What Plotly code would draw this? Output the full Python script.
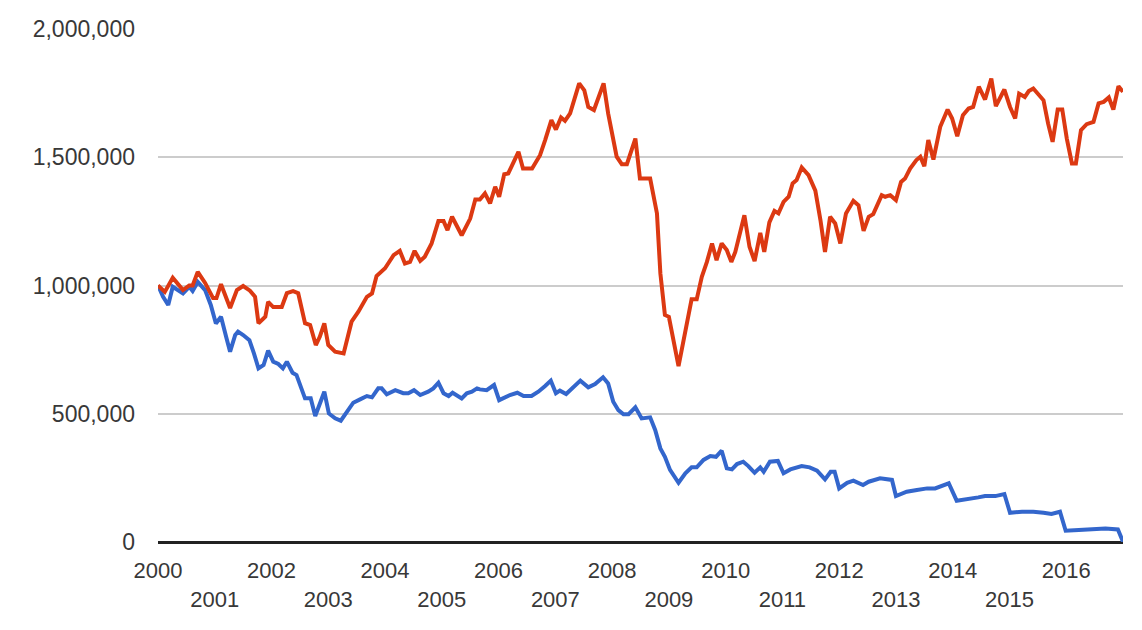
import plotly.graph_objects as go

# Red series (x in fractional years, values)
red_x = [2000.00, 2000.12, 2000.26, 2000.44, 2000.55, 2000.61, 2000.70, 2000.83, 2000.97, 2001.03,
         2001.11, 2001.27, 2001.39, 2001.50, 2001.62, 2001.71, 2001.77, 2001.89, 2001.94, 2002.03,
         2002.18, 2002.27, 2002.38, 2002.47, 2002.59, 2002.68, 2002.78, 2002.85, 2002.93, 2003.00,
         2003.12, 2003.27, 2003.41, 2003.53, 2003.68, 2003.77, 2003.85, 2004.00, 2004.15, 2004.26,
         2004.35, 2004.44, 2004.52, 2004.62, 2004.70, 2004.82, 2004.94, 2005.03, 2005.10, 2005.18,
         2005.35, 2005.50, 2005.59, 2005.67, 2005.76, 2005.85, 2005.94, 2006.01, 2006.10, 2006.17,
         2006.35, 2006.43, 2006.59, 2006.73, 2006.82, 2006.93, 2007.01, 2007.10, 2007.17, 2007.26,
         2007.42, 2007.51, 2007.58, 2007.68, 2007.85, 2007.93, 2008.08, 2008.17, 2008.26, 2008.41,
         2008.49, 2008.67, 2008.79, 2008.85, 2008.93, 2009.00, 2009.17, 2009.29, 2009.40, 2009.49,
         2009.58, 2009.67, 2009.76, 2009.84, 2009.93, 2010.02, 2010.10, 2010.17, 2010.33, 2010.42,
         2010.51, 2010.61, 2010.68, 2010.77, 2010.86, 2010.93, 2011.02, 2011.11, 2011.18, 2011.25,
         2011.34, 2011.46, 2011.58, 2011.67, 2011.75, 2011.84, 2011.93, 2012.02, 2012.12, 2012.25,
         2012.34, 2012.43, 2012.52, 2012.60, 2012.75, 2012.81, 2012.90, 2013.00, 2013.09, 2013.16,
         2013.25, 2013.36, 2013.43, 2013.50, 2013.57, 2013.66, 2013.78, 2013.91, 2013.99, 2014.08,
         2014.18, 2014.28, 2014.36, 2014.46, 2014.57, 2014.68, 2014.76, 2014.91, 2015.01, 2015.10,
         2015.17, 2015.27, 2015.34, 2015.42, 2015.51, 2015.60, 2015.68, 2015.76, 2015.85, 2015.93,
         2016.01, 2016.10, 2016.17, 2016.26, 2016.36, 2016.48, 2016.57, 2016.66, 2016.75, 2016.83,
         2016.92, 2017.00]
red_y = [1000000, 975000, 1030000, 982000, 1000000, 1000000, 1053000, 1010000, 951000, 951000,
         1005000, 912000, 982000, 998000, 980000, 956000, 853000, 878000, 936000, 916000,
         916000, 970000, 978000, 970000, 853000, 846000, 768000, 800000, 852000, 768000,
         742000, 735000, 859000, 898000, 956000, 969000, 1037000, 1067000, 1118000, 1135000,
         1086000, 1092000, 1135000, 1096000, 1112000, 1164000, 1251000, 1251000, 1216000, 1268000,
         1196000, 1261000, 1335000, 1335000, 1359000, 1320000, 1385000, 1346000, 1434000, 1437000,
         1521000, 1456000, 1456000, 1508000, 1567000, 1645000, 1608000, 1655000, 1642000, 1671000,
         1788000, 1761000, 1696000, 1684000, 1788000, 1671000, 1502000, 1473000, 1473000, 1573000,
         1417000, 1417000, 1281000, 1047000, 885000, 878000, 686000, 813000, 946000, 946000,
         1034000, 1092000, 1164000, 1099000, 1164000, 1138000, 1092000, 1131000, 1274000, 1151000,
         1095000, 1205000, 1131000, 1246000, 1291000, 1281000, 1326000, 1346000, 1398000, 1411000,
         1460000, 1430000, 1370000, 1255000, 1131000, 1268000, 1242000, 1164000, 1281000, 1330000,
         1313000, 1213000, 1268000, 1278000, 1352000, 1346000, 1352000, 1333000, 1404000, 1417000,
         1456000, 1489000, 1502000, 1465000, 1567000, 1491000, 1619000, 1686000, 1651000, 1582000,
         1664000, 1690000, 1696000, 1775000, 1725000, 1807000, 1699000, 1764000, 1696000, 1651000,
         1748000, 1735000, 1758000, 1768000, 1742000, 1722000, 1632000, 1560000, 1686000, 1686000,
         1573000, 1476000, 1476000, 1606000, 1629000, 1638000, 1710000, 1716000, 1733000, 1686000,
         1777000, 1755000]

# Blue series
blue_x = [2000.00, 2000.09, 2000.18, 2000.26, 2000.44, 2000.55, 2000.61, 2000.70, 2000.83, 2000.93,
          2001.02, 2001.11, 2001.20, 2001.27, 2001.36, 2001.41, 2001.50, 2001.61, 2001.69, 2001.77,
          2001.86, 2001.94, 2002.03, 2002.12, 2002.20, 2002.27, 2002.37, 2002.44, 2002.59, 2002.69,
          2002.77, 2002.85, 2002.93, 2003.01, 2003.12, 2003.22, 2003.33, 2003.44, 2003.56, 2003.68,
          2003.77, 2003.88, 2003.94, 2004.03, 2004.18, 2004.32, 2004.41, 2004.51, 2004.62, 2004.76,
          2004.85, 2004.94, 2005.03, 2005.12, 2005.19, 2005.35, 2005.44, 2005.53, 2005.62, 2005.67,
          2005.79, 2005.92, 2006.01, 2006.10, 2006.20, 2006.33, 2006.44, 2006.58, 2006.70, 2006.82,
          2006.92, 2007.01, 2007.08, 2007.19, 2007.29, 2007.44, 2007.58, 2007.70, 2007.84, 2007.93,
          2008.02, 2008.11, 2008.20, 2008.29, 2008.41, 2008.52, 2008.67, 2008.76, 2008.85, 2008.93,
          2009.02, 2009.17, 2009.29, 2009.40, 2009.49, 2009.61, 2009.73, 2009.83, 2009.93, 2010.02,
          2010.11, 2010.20, 2010.31, 2010.40, 2010.51, 2010.61, 2010.67, 2010.78, 2010.92, 2011.02,
          2011.14, 2011.34, 2011.48, 2011.61, 2011.75, 2011.85, 2011.92, 2012.00, 2012.14, 2012.25,
          2012.42, 2012.52, 2012.72, 2012.93, 2013.00, 2013.19, 2013.37, 2013.55, 2013.69, 2013.93,
          2014.07, 2014.25, 2014.45, 2014.57, 2014.75, 2014.91, 2015.01, 2015.22, 2015.42, 2015.60,
          2015.74, 2015.89, 2015.99, 2016.22, 2016.45, 2016.69, 2016.91, 2017.00]
blue_y = [1000000, 956000, 924000, 995000, 969000, 995000, 979000, 1014000, 982000, 924000,
          852000, 878000, 800000, 742000, 807000, 820000, 807000, 787000, 735000, 677000,
          690000, 746000, 703000, 694000, 677000, 703000, 660000, 651000, 560000, 560000,
          491000, 540000, 586000, 501000, 482000, 473000, 508000, 543000, 556000, 569000,
          564000, 599000, 599000, 576000, 592000, 580000, 580000, 592000, 573000, 586000,
          599000, 621000, 580000, 569000, 582000, 560000, 580000, 586000, 599000, 595000,
          592000, 612000, 553000, 564000, 573000, 582000, 569000, 569000, 586000, 608000,
          629000, 580000, 590000, 577000, 599000, 629000, 603000, 616000, 642000, 618000,
          547000, 514000, 498000, 498000, 525000, 482000, 486000, 436000, 365000, 332000,
          281000, 231000, 268000, 291000, 291000, 320000, 335000, 332000, 356000, 287000,
          283000, 304000, 313000, 296000, 270000, 291000, 274000, 313000, 316000, 268000,
          283000, 296000, 291000, 278000, 244000, 274000, 274000, 209000, 231000, 239000,
          222000, 235000, 248000, 242000, 179000, 196000, 203000, 209000, 209000, 229000,
          161000, 166000, 174000, 179000, 179000, 187000, 114000, 118000, 118000, 114000,
          109000, 118000, 44000, 47000, 49000, 53000, 49000, 1000]

years = list(range(2000, 2017))
year_labels = [str(y) if y % 2 == 0 else "\u00a0<br>" + str(y) for y in years]
y_ticks = [0, 500000, 1000000, 1500000, 2000000]

fig = go.Figure()
fig.add_trace(go.Scatter(x=blue_x, y=blue_y, mode="lines",
                         line=dict(color="#3366cc", width=4), showlegend=False))
fig.add_trace(go.Scatter(x=red_x, y=red_y, mode="lines",
                         line=dict(color="#dc3912", width=4), showlegend=False))

font_family = "Liberation Sans, Arial, sans-serif"
# page body has an 8px default margin, so the figure is offset by 8px
fig.update_layout(
    width=1134, height=622,
    margin=dict(l=150, r=19, t=21, b=88, autoexpand=False),
    paper_bgcolor="#ffffff", plot_bgcolor="#ffffff",
    font=dict(family=font_family, size=22, color="#383838"),
    xaxis=dict(range=[2000, 2017], tickvals=years, ticktext=year_labels,
               showgrid=False, zeroline=False, showline=False, ticks="",
               automargin=False, ticklabelstandoff=13,
               tickfont=dict(size=22, color="#383838")),
    yaxis=dict(range=[0, 2000000], tickvals=y_ticks, tickformat=",d",
               showgrid=True, gridcolor="#cccccc", gridwidth=1.6,
               zeroline=True, zerolinecolor="#222222", zerolinewidth=3,
               showline=False, ticks="", ticklabelstandoff=22, automargin=False,
               tickfont=dict(size=23, color="#383838")),
)

fig.write_html("out.html")
